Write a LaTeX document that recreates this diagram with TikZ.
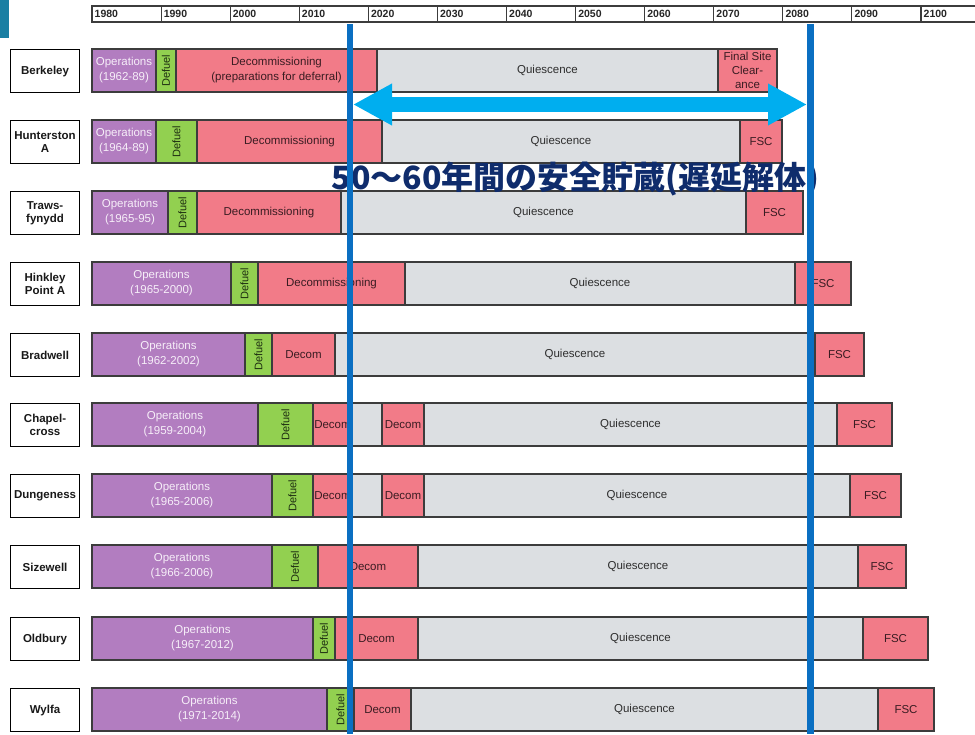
\documentclass[tikz,border=0pt]{standalone}
\usepackage{fontspec}
\setmainfont{Liberation Sans}
\newfontfamily\jpfont{Noto Sans CJK JP}
\usepackage{graphicx}
\usetikzlibrary{arrows.meta}
\definecolor{opsc}{HTML}{B27DC0}
\definecolor{defc}{HTML}{92D050}
\definecolor{decc}{HTML}{F27B88}
\definecolor{quic}{HTML}{DCDFE2}
\definecolor{edgec}{HTML}{3C3C3C}
\definecolor{opstext}{HTML}{F6EEF8}
\definecolor{dectext}{HTML}{3A1C22}
\definecolor{deftext}{HTML}{1F3012}
\definecolor{quitext}{HTML}{2E2E2E}
\definecolor{vline}{HTML}{0A6FC2}
\definecolor{arrowc}{HTML}{00AEEF}
\definecolor{navy}{HTML}{0F2C6C}
\definecolor{tealc}{HTML}{1A7FA3}
\newcommand\barseg[6]{% name, x1, x2, ytop, style, text
  \pgfmathsetmacro\segw{#3-#2}%
  \node[#5, minimum width=\segw pt] (#1) at (#2,#4) {#6};}
\newcommand\dfl{\rotatebox{90}{Defuel}}
\begin{document}
\begin{tikzpicture}[x=1pt,y=-1pt,
  seg/.style={draw=edgec, line width=1.1pt, minimum height=43pt, inner sep=0pt,
    outer sep=0pt, anchor=north west, align=center,
    font=\fontsize{11.5}{15}\selectfont},
  ops/.style={seg, fill=opsc, text=opstext},
  defuel/.style={seg, fill=defc, text=deftext, font=\fontsize{11}{12}\selectfont},
  decom/.style={seg, fill=decc, text=dectext},
  quies/.style={seg, fill=quic, text=quitext},
  namebox/.style={draw=black, line width=1.1pt, fill=white, minimum width=69pt,
    minimum height=43pt, anchor=north west, align=center, inner sep=0pt,
    font=\bfseries\fontsize{11.5}{13.5}\selectfont, text=black!90},
  yearlab/.style={anchor=west, inner sep=0pt, font=\bfseries\fontsize{10.5}{12}\selectfont, text=black!85},
  vbar/.style={draw=vline, line width=6.5pt},
  bigarrow/.style={draw=arrowc, line width=15pt,
    {Triangle[length=39pt,width=39pt]}-{Triangle[length=39pt,width=39pt]}}
]
\useasboundingbox (0,0) rectangle (975,734);
\fill[white] (0,0) rectangle (975,734);
\fill[tealc] (0,0) rectangle (9,38);

% time axis
\draw[edgec, line width=1.1pt] (976,6) -- (92,6) -- (92,22) -- (976,22);
\foreach \k/\yr in {0/1980,1/1990,2/2000,3/2010,4/2020,5/2030,6/2040,7/2050,8/2060,9/2070,10/2080,11/2090,12/2100}{
  \pgfmathsetmacro\tx{92+69.08*\k}
  \draw[edgec, line width=1.1pt] (\tx,6) -- (\tx,22);
  \node[yearlab] (yr\yr) at (\tx+2.5,14) {\yr};
}

% site name boxes
\node[namebox] (n1) at (10,49) {Berkeley};
\node[namebox] (n2) at (10,120) {Hunterston\\A};
\node[namebox] (n3) at (10,191) {Traws-\\fynydd};
\node[namebox] (n4) at (10,262) {Hinkley\\Point A};
\node[namebox] (n5) at (10,333) {Bradwell};
\node[namebox] (n6) at (10,403) {Chapel-\\cross};
\node[namebox] (n7) at (10,474) {Dungeness};
\node[namebox] (n8) at (10,545) {Sizewell};
\node[namebox] (n9) at (10,617) {Oldbury};
\node[namebox] (n10) at (10,688) {Wylfa};

% Berkeley
\barseg{b1o}{92}{156}{49}{ops}{Operations\\(1962-89)}
\barseg{b1d}{156}{176}{49}{defuel}{\dfl}
\barseg{b1c}{176}{377}{49}{decom}{Decommissioning\\(preparations for deferral)}
\barseg{b1q}{377}{718}{49}{quies}{Quiescence}
\barseg{b1f}{718}{777}{49}{decom, font=\fontsize{11.5}{14}\selectfont}{Final Site\\Clear-\\ance}
% Hunterston A
\barseg{b2o}{92}{156}{120}{ops}{Operations\\(1964-89)}
\barseg{b2d}{156}{197}{120}{defuel}{\dfl}
\barseg{b2c}{197}{382}{120}{decom}{Decommissioning}
\barseg{b2q}{382}{740}{120}{quies}{Quiescence}
\barseg{b2f}{740}{782}{120}{decom}{FSC}
% Trawsfynydd
\barseg{b3o}{92}{168}{191}{ops}{Operations\\(1965-95)}
\barseg{b3d}{168}{197}{191}{defuel}{\dfl}
\barseg{b3c}{197}{341}{191}{decom}{Decommissioning}
\barseg{b3q}{341}{746}{191}{quies}{Quiescence}
\barseg{b3f}{746}{803}{191}{decom}{FSC}
% Hinkley Point A
\barseg{b4o}{92}{231}{262}{ops}{Operations\\(1965-2000)}
\barseg{b4d}{231}{258}{262}{defuel}{\dfl}
\barseg{b4c}{258}{405}{262}{decom}{Decommissioning}
\barseg{b4q}{405}{795}{262}{quies}{Quiescence}
\barseg{b4f}{795}{851}{262}{decom}{FSC}
% Bradwell
\barseg{b5o}{92}{245}{333}{ops}{Operations\\(1962-2002)}
\barseg{b5d}{245}{272}{333}{defuel}{\dfl}
\barseg{b5c}{272}{335}{333}{decom}{Decom}
\barseg{b5q}{335}{815}{333}{quies}{Quiescence}
\barseg{b5f}{815}{864}{333}{decom}{FSC}
% Chapelcross
\barseg{b6o}{92}{258}{403}{ops}{Operations\\(1959-2004)}
\barseg{b6d}{258}{313}{403}{defuel}{\dfl}
\barseg{b6c}{313}{352}{403}{decom}{Decom}
\barseg{b6g}{352}{382}{403}{quies}{}
\barseg{b6e}{382}{424}{403}{decom}{Decom}
\barseg{b6q}{424}{837}{403}{quies}{Quiescence}
\barseg{b6f}{837}{892}{403}{decom}{FSC}
% Dungeness
\barseg{b7o}{92}{272}{474}{ops}{Operations\\(1965-2006)}
\barseg{b7d}{272}{313}{474}{defuel}{\dfl}
\barseg{b7c}{313}{352}{474}{decom}{Decom}
\barseg{b7g}{352}{382}{474}{quies}{}
\barseg{b7e}{382}{424}{474}{decom}{Decom}
\barseg{b7q}{424}{850}{474}{quies}{Quiescence}
\barseg{b7f}{850}{901}{474}{decom}{FSC}
% Sizewell
\barseg{b8o}{92}{272}{545}{ops}{Operations\\(1966-2006)}
\barseg{b8d}{272}{318}{545}{defuel}{\dfl}
\barseg{b8c}{318}{418}{545}{decom}{Decom}
\barseg{b8q}{418}{858}{545}{quies}{Quiescence}
\barseg{b8f}{858}{906}{545}{decom}{FSC}
% Oldbury
\barseg{b9o}{92}{313}{617}{ops}{Operations\\(1967-2012)}
\barseg{b9d}{313}{335}{617}{defuel}{\dfl}
\barseg{b9c}{335}{418}{617}{decom}{Decom}
\barseg{b9q}{418}{863}{617}{quies}{Quiescence}
\barseg{b9f}{863}{928}{617}{decom}{FSC}
% Wylfa
\barseg{b10o}{92}{327}{688}{ops}{Operations\\(1971-2014)}
\barseg{b10d}{327}{354}{688}{defuel}{\dfl}
\barseg{b10c}{354}{411}{688}{decom}{Decom}
\barseg{b10q}{411}{878}{688}{quies}{Quiescence}
\barseg{b10f}{878}{934}{688}{decom}{FSC}

% annotation text
\node[anchor=base west, inner sep=0pt, text=navy,
  font=\jpfont\bfseries\fontsize{32}{32}\selectfont] (jp) at (331.5,189)
  {50～60年間の安全貯蔵(遅延解体)};

% vertical markers
\coordinate (vlt) at (350,24);
\coordinate (vlb) at (350,734);
\coordinate (vrt) at (810.5,24);
\coordinate (vrb) at (810.5,734);
\draw[vbar] (vlt) -- (vlb);
\draw[vbar] (vrt) -- (vrb);

% double arrow
\coordinate (al) at (353,104.5);
\coordinate (ar) at (807,104.5);
\draw[bigarrow] (al) -- (ar);
\end{tikzpicture}
\end{document}
